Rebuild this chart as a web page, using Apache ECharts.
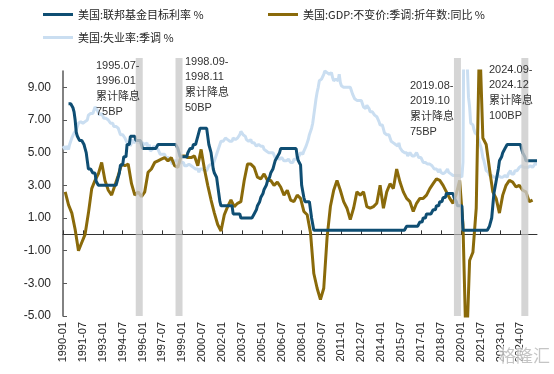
<!DOCTYPE html>
<html><head><meta charset="utf-8">
<script src="https://cdn.jsdelivr.net/npm/echarts@6/dist/echarts.min.js"></script>
<style>html,body{margin:0;padding:0;background:#fff}#c{width:554px;height:374px}</style>
</head><body><div id="c"></div>
<script>
// ---------------- DATA ----------------
const seriesNames = ['美国:联邦基金目标利率 %', '美国:GDP:不变价:季调:折年数:同比 %', '美国:失业率:季调 %'];

// monthly categories 1990-01 .. 2025-10
const firstYear = 1990, lastYear = 2025, lastMonth = 10;
const months = [];
for (let y = firstYear; y <= lastYear; y++) {
  for (let m = 1; m <= 12; m++) {
    if (y === lastYear && m > lastMonth) break;
    months.push(y + '-' + (m < 10 ? '0' + m : m));
  }
}

// Fed funds target rate (upper bound), month-end, 1990-01 .. 2025-10
const fedRate = [
  null,null,null,null,null,8,8,8,8,7.75,7.5,7,
  6.25,6,6,5.75,5.75,5.75,5.75,5.5,5.25,5,4.5,4,
  4,4,4,3.75,3.75,3.75,3.25,3.25,3,3,3,3,
  3,3,3,3,3,3,3,3,3,3,3,3,
  3,3.25,3.5,3.75,4.25,4.25,4.25,4.75,4.75,4.75,5.5,5.5,
  5.5,6,6,6,6,6,5.75,5.75,5.75,5.75,5.75,5.5,
  5.25,5.25,5.25,5.25,5.25,5.25,5.25,5.25,5.25,5.25,5.25,5.25,
  5.25,5.25,5.5,5.5,5.5,5.5,5.5,5.5,5.5,5.5,5.5,5.5,
  5.5,5.5,5.5,5.5,5.5,5.5,5.5,5.5,5.25,5,4.75,4.75,
  4.75,4.75,4.75,4.75,4.75,5,5,5.25,5.25,5.25,5.5,5.5,
  5.5,5.75,6,6,6.5,6.5,6.5,6.5,6.5,6.5,6.5,6.5,
  5.5,5.5,5,4.5,4,3.75,3.75,3.5,3,2.5,2,1.75,
  1.75,1.75,1.75,1.75,1.75,1.75,1.75,1.75,1.75,1.75,1.25,1.25,
  1.25,1.25,1.25,1.25,1.25,1,1,1,1,1,1,1,
  1,1,1,1,1,1.25,1.25,1.5,1.75,1.75,2,2.25,
  2.25,2.5,2.75,2.75,3,3.25,3.25,3.5,3.75,3.75,4,4.25,
  4.5,4.5,4.75,4.75,5,5.25,5.25,5.25,5.25,5.25,5.25,5.25,
  5.25,5.25,5.25,5.25,5.25,5.25,5.25,5.25,4.75,4.5,4.5,4.25,
  3,3,2.25,2,2,2,2,2,2,1,1,0.25,
  0.25,0.25,0.25,0.25,0.25,0.25,0.25,0.25,0.25,0.25,0.25,0.25,
  0.25,0.25,0.25,0.25,0.25,0.25,0.25,0.25,0.25,0.25,0.25,0.25,
  0.25,0.25,0.25,0.25,0.25,0.25,0.25,0.25,0.25,0.25,0.25,0.25,
  0.25,0.25,0.25,0.25,0.25,0.25,0.25,0.25,0.25,0.25,0.25,0.25,
  0.25,0.25,0.25,0.25,0.25,0.25,0.25,0.25,0.25,0.25,0.25,0.25,
  0.25,0.25,0.25,0.25,0.25,0.25,0.25,0.25,0.25,0.25,0.25,0.25,
  0.25,0.25,0.25,0.25,0.25,0.25,0.25,0.25,0.25,0.25,0.25,0.5,
  0.5,0.5,0.5,0.5,0.5,0.5,0.5,0.5,0.5,0.5,0.5,0.75,
  0.75,0.75,1,1,1,1.25,1.25,1.25,1.25,1.25,1.25,1.5,
  1.5,1.5,1.75,1.75,1.75,2,2,2,2.25,2.25,2.25,2.5,
  2.5,2.5,2.5,2.5,2.5,2.5,2.25,2.25,2,1.75,1.75,1.75,
  1.75,1.75,0.25,0.25,0.25,0.25,0.25,0.25,0.25,0.25,0.25,0.25,
  0.25,0.25,0.25,0.25,0.25,0.25,0.25,0.25,0.25,0.25,0.25,0.25,
  0.25,0.25,0.5,0.5,1,1.75,2.5,2.5,3.25,3.25,4,4.5,
  4.5,4.75,5,5,5.25,5.25,5.5,5.5,5.5,5.5,5.5,5.5,
  5.5,5.5,5.5,5.5,5.5,5.5,5.5,5.5,5,5,4.75,4.5,
  4.5,4.5,4.5,4.5,4.5,4.5,4.5,4.5,4.5,4.5
];

// Unemployment rate (SA), monthly, 1990-01 .. 2025-10
const unempRate = [
  5.4,5.3,5.2,5.4,5.4,5.2,5.5,5.7,5.9,5.9,6.2,6.3,
  6.4,6.6,6.8,6.7,6.9,6.9,6.8,6.9,6.9,7.0,7.0,7.3,
  7.3,7.4,7.4,7.4,7.6,7.8,7.7,7.6,7.6,7.3,7.4,7.4,
  7.3,7.1,7.0,7.1,7.1,7.0,6.9,6.8,6.7,6.8,6.6,6.5,
  6.6,6.6,6.5,6.4,6.1,6.1,6.1,6.0,5.9,5.8,5.6,5.5,
  5.6,5.4,5.4,5.8,5.6,5.6,5.7,5.7,5.6,5.5,5.6,5.6,
  5.6,5.5,5.5,5.6,5.6,5.3,5.5,5.1,5.2,5.2,5.4,5.4,
  5.3,5.2,5.2,5.1,4.9,5.0,4.9,4.8,4.9,4.7,4.6,4.7,
  4.6,4.6,4.7,4.3,4.4,4.5,4.5,4.5,4.6,4.5,4.4,4.4,
  4.3,4.4,4.2,4.3,4.2,4.3,4.3,4.2,4.2,4.1,4.1,4.0,
  4.0,4.1,4.0,3.8,4.0,4.0,4.0,4.1,3.9,3.9,3.9,3.9,
  4.2,4.2,4.3,4.4,4.3,4.5,4.6,4.9,5.0,5.3,5.5,5.7,
  5.7,5.7,5.7,5.9,5.8,5.8,5.8,5.7,5.7,5.7,5.9,6.0,
  5.8,5.9,5.9,6.0,6.1,6.3,6.2,6.1,6.1,6.0,5.8,5.7,
  5.7,5.6,5.8,5.6,5.6,5.6,5.5,5.4,5.4,5.5,5.4,5.4,
  5.3,5.4,5.2,5.2,5.1,5.0,5.0,4.9,5.0,5.0,5.0,4.9,
  4.7,4.8,4.7,4.7,4.6,4.6,4.7,4.7,4.5,4.4,4.5,4.4,
  4.6,4.5,4.4,4.5,4.4,4.6,4.7,4.6,4.7,4.7,4.7,5.0,
  5.0,4.9,5.1,5.0,5.4,5.6,5.8,6.1,6.1,6.5,6.8,7.3,
  7.8,8.3,8.7,9.0,9.4,9.5,9.5,9.6,9.8,10.0,9.9,9.9,
  9.8,9.8,9.9,9.9,9.6,9.4,9.4,9.5,9.5,9.4,9.8,9.3,
  9.1,9.0,9.0,9.1,9.0,9.1,9.0,9.0,9.0,8.8,8.6,8.5,
  8.3,8.3,8.2,8.2,8.2,8.2,8.2,8.1,7.8,7.8,7.7,7.9,
  8.0,7.7,7.5,7.6,7.5,7.5,7.3,7.2,7.2,7.2,6.9,6.7,
  6.6,6.7,6.7,6.2,6.3,6.1,6.2,6.1,5.9,5.7,5.8,5.6,
  5.7,5.5,5.4,5.4,5.6,5.3,5.2,5.1,5.0,5.0,5.1,5.0,
  4.8,4.9,5.0,5.1,4.8,4.9,4.8,4.9,5.0,4.9,4.7,4.7,
  4.7,4.6,4.4,4.4,4.4,4.3,4.3,4.4,4.3,4.2,4.2,4.1,
  4.0,4.1,4.0,4.0,3.8,4.0,3.8,3.8,3.7,3.8,3.8,3.9,
  4.0,3.8,3.8,3.7,3.6,3.6,3.7,3.6,3.5,3.6,3.6,3.6,
  3.5,3.5,4.4,14.8,13.2,11.0,10.2,8.4,7.8,6.8,6.7,6.7,
  6.4,6.2,6.1,6.1,5.8,5.9,5.4,5.1,4.7,4.5,4.2,3.9,
  4.0,3.8,3.6,3.7,3.6,3.6,3.5,3.6,3.5,3.6,3.6,3.5,
  3.5,3.6,3.5,3.4,3.6,3.6,3.5,3.7,3.8,3.9,3.7,3.8,
  3.7,3.9,3.9,3.9,4.0,4.1,4.2,4.2,4.1,4.1,4.2,4.1,
  4.0,4.1,4.2,4.2,4.2,4.1,4.2,4.3,4.3,4.3
];

// Real GDP YoY (%), quarterly 1990Q1 .. 2025Q2, placed at quarter-end months
const gdpYoY = [
  2.6,1.8,1.3,0.3,   -1.0,-0.5,0.0,1.3,  2.8,3.3,3.7,4.4,  3.3,2.7,2.4,3.0,
  3.6,4.3,4.2,4.3,   3.1,2.4,2.6,2.3,    2.6,3.8,4.0,4.4,  4.5,4.6,4.7,4.5,
  4.7,4.2,4.1,4.8,   4.8,4.7,4.7,4.8,    4.2,5.2,4.0,3.0,  2.1,1.3,0.6,0.2,
  1.2,1.7,2.1,1.7,   1.9,2.0,3.3,4.3,    4.3,4.1,3.5,3.4,  3.7,3.3,3.3,3.0,
  3.2,2.9,2.4,2.7,   2.1,2.0,2.4,2.2,    1.4,1.2,0.1,-2.4, -3.3,-4.0,-3.3,-0.2,
  1.7,2.7,3.3,2.7,   2.0,1.6,0.9,1.6,    2.6,2.4,2.6,1.7,  1.6,1.7,1.9,3.0,
  1.6,2.6,3.1,2.8,   4.0,3.2,2.6,2.2,    2.0,1.4,1.9,2.2,  2.2,2.4,2.8,3.1,
  3.4,3.3,3.0,2.6,   2.2,1.9,2.5,3.3,    0.6,-7.5,-1.6,-1.1, 1.6,12.2,5.9,5.5,
  4.0,2.6,2.2,1.3,   2.4,3.0,3.3,3.2,    2.9,3.0,2.7,2.6,  2.0,2.1
];
const quarterEndMonths = ['03', '06', '09', '12'];

// rate-cut periods (shaded columns, centred on the period) and their notes
const cutBandMonths = ['1995-10', '1998-10', '2019-10', '2024-11'];
const cutNotes = [
  '1995.07-\n1996.01\n累计降息\n75BP',
  '1998.09-\n1998.11\n累计降息\n50BP',
  '2019.08-\n2019.10\n累计降息\n75BP',
  '2024.09-\n2024.12\n累计降息\n100BP'
];
const bandTop = 10.8, bandBottom = -5;

const yTickValues = [-5, -3, -1, 1, 3, 5, 7, 9];

// ---------------- CHART ----------------
const colors = ['#0f4e73', '#8a6a0a', '#cadef1'];
const gdpData = gdpYoY.map((v, i) => [(firstYear + Math.floor(i / 4)) + '-' + quarterEndMonths[i % 4], v]);
const FONT = "'Liberation Sans', 'Noto Sans CJK SC', sans-serif";
const notePos = [[96, 58], [185, 54], [410, 78], [489, 62]];

const chart = echarts.init(document.getElementById('c'), null, { renderer: 'canvas' });
const legendBase = {
  icon: 'rect', itemWidth: 30, itemHeight: 3, itemGap: 10,
  textStyle: { fontSize: 11, color: '#262626', fontFamily: "'Noto Sans CJK SC', 'Liberation Sans', sans-serif" },
  padding: 0
};
chart.setOption({
  animation: false,
  backgroundColor: '#fff',
  grid: { left: 63, right: 17, top: 71, bottom: 58 },
  legend: [
    Object.assign({ left: 43, top: 9, data: [seriesNames[0]] }, legendBase),
    Object.assign({ left: 268, top: 9, data: [seriesNames[1]] }, legendBase),
    Object.assign({ left: 43, top: 32, data: [seriesNames[2]] }, legendBase)
  ],
  xAxis: [
    {
      type: 'category', data: months, boundaryGap: false, position: 'bottom',
      axisLine: { show: false, onZero: false },
      axisTick: { show: false },
      axisLabel: { interval: 17, rotate: 90, fontSize: 11, margin: 6, color: '#262626', fontFamily: FONT },
      splitLine: { show: false }
    },
    {
      type: 'category', data: months, boundaryGap: false, position: 'bottom',
      axisLine: { show: true, onZero: true, lineStyle: { color: '#333', width: 1 } },
      axisTick: { show: true, inside: true, length: 4, interval: 17, lineStyle: { color: '#333' } },
      axisLabel: { show: false },
      splitLine: { show: false }
    }
  ],
  yAxis: {
    type: 'value', min: -5, max: 10, interval: 1,
    axisLine: { show: true, lineStyle: { color: '#595959', width: 1.5 } },
    axisTick: { show: true, inside: true, length: 4, customValues: yTickValues, lineStyle: { color: '#595959' } },
    axisLabel: { customValues: yTickValues, formatter: v => v.toFixed(2), fontSize: 12, margin: 12, color: '#262626', fontFamily: FONT },
    splitLine: { show: false }
  },
  series: [
    {
      name: seriesNames[2], type: 'line', data: unempRate, xAxisIndex: 0, showSymbol: false, z: 2,
      lineStyle: { color: colors[2], width: 3 }, itemStyle: { color: colors[2] }
    },
    {
      name: seriesNames[1], type: 'line', data: gdpData, xAxisIndex: 0, showSymbol: false, z: 3,
      lineStyle: { color: colors[1], width: 3 }, itemStyle: { color: colors[1] }
    },
    {
      name: seriesNames[0], type: 'line', data: fedRate, xAxisIndex: 0, showSymbol: false, z: 4,
      lineStyle: { color: colors[0], width: 3 }, itemStyle: { color: colors[0] }
    },
    {
      name: 'bandUp', type: 'bar', stack: 'band', xAxisIndex: 0, clip: false, silent: true, z: 6,
      barWidth: 7, data: cutBandMonths.map(m => [m, bandTop]),
      itemStyle: { color: 'rgba(202,202,202,0.8)' }
    },
    {
      name: 'bandDown', type: 'bar', stack: 'band', xAxisIndex: 0, clip: false, silent: true, z: 6,
      barWidth: 7, data: cutBandMonths.map(m => [m, bandBottom]),
      itemStyle: { color: 'rgba(202,202,202,0.8)' }
    }
  ],
  graphic: cutNotes.map((t, i) => ({
    type: 'text', left: notePos[i][0], top: notePos[i][1], z: 20,
    style: { text: t, fontSize: 11, lineHeight: 15.5, fill: '#333', fontFamily: FONT }
  })).concat([{
    type: 'text', left: 498, top: 346, z: 30,
    style: { text: '格隆汇', fontSize: 17, fill: 'rgba(150,150,150,0.55)', stroke: 'rgba(255,255,255,0.7)', lineWidth: 2, fontFamily: "'Noto Sans CJK SC', sans-serif" }
  }])
});
</script>
</body></html>
